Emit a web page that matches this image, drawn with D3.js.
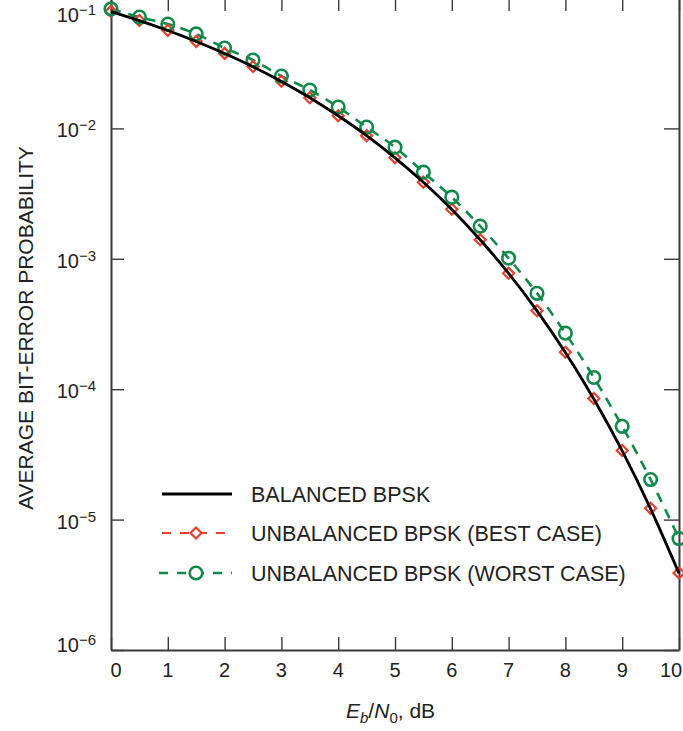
<!DOCTYPE html>
<html>
<head>
<meta charset="utf-8">
<script src="https://cdn.jsdelivr.net/npm/d3@7"></script>
<style>
  body { margin: 0; background: #fff; }
  text { font-family: "Liberation Sans", Arial, sans-serif; fill: #222; }
</style>
</head>
<body>
<div id="chart"></div>
<script>
// Eb/N0 in dB
var ebn0 = [0, 0.5, 1, 1.5, 2, 2.5, 3, 3.5, 4, 4.5, 5, 5.5, 6, 6.5, 7, 7.5, 8, 8.5, 9, 9.5, 10];

// balanced BPSK
var balanced = [7.87e-2, 6.71e-2, 5.63e-2, 4.64e-2, 3.75e-2, 2.97e-2, 2.29e-2, 1.72e-2, 1.25e-2, 8.8e-3,
  5.95e-3, 3.86e-3, 2.39e-3, 1.40e-3, 7.73e-4, 3.99e-4, 1.91e-4, 8.4e-5, 3.36e-5, 1.21e-5, 3.87e-6];

// unbalanced, best case (red diamonds)
var bestCase = [7.9e-2, 6.72e-2, 5.65e-2, 4.65e-2, 3.76e-2, 2.98e-2, 2.3e-2, 1.72e-2, 1.25e-2, 8.8e-3,
  5.95e-3, 3.87e-3, 2.40e-3, 1.40e-3, 7.75e-4, 4.0e-4, 1.92e-4, 8.5e-5, 3.39e-5, 1.22e-5, 3.9e-6];

// unbalanced, worst case (green circles)
var worstCase = [8.24e-2, 7.14e-2, 6.31e-2, 5.3e-2, 4.13e-2, 3.34e-2, 2.52e-2, 1.97e-2, 1.456e-2, 1.023e-2,
  7.18e-3, 4.62e-3, 2.97e-3, 1.78e-3, 1.01e-3, 5.44e-4, 2.69e-4, 1.23e-4, 5.19e-5, 2.03e-5, 7.16e-6];

var xTicks = [0, 1, 2, 3, 4, 5, 6, 7, 8, 9, 10];
var yTicks = [1e-6, 1e-5, 1e-4, 1e-3, 1e-2, 1e-1];
var yExp = ['\u22126', '\u22125', '\u22124', '\u22123', '\u22122', '\u22121'];

var legendNames = ['BALANCED BPSK', 'UNBALANCED BPSK (BEST CASE)', 'UNBALANCED BPSK (WORST CASE)'];

var RED = '#e8402c', GREEN = '#11894a', AX = '#3a3a3a';

var svg = d3.select('#chart')
  .append('svg')
    .attr('width', 683)
    .attr('height', 731);

var x = d3.scaleLinear().domain([0, 10]).range([111, 679]);
var y = d3.scaleLog().domain([1e-6, 1e-1]).range([650, -2]);

// frame with inward ticks
function styleAxis(g) {
  g.select('.domain').attr('stroke', AX).attr('stroke-width', 2);
  g.selectAll('.tick line').attr('stroke', AX).attr('stroke-width', 1.4);
}

svg.append('g').attr('transform', 'translate(0,650)')
  .call(d3.axisBottom(x).tickValues(xTicks).tickSize(-13).tickSizeOuter(0).tickFormat(''))
  .call(styleAxis);
svg.append('g').attr('transform', 'translate(0,-2)')
  .call(d3.axisTop(x).tickValues(xTicks).tickSize(-13).tickSizeOuter(0).tickFormat(''))
  .call(styleAxis);
svg.append('g').attr('transform', 'translate(111,0)')
  .call(d3.axisLeft(y).tickValues(yTicks).tickSize(-13).tickSizeOuter(0).tickFormat(''))
  .call(styleAxis);
svg.append('g').attr('transform', 'translate(679,0)')
  .call(d3.axisRight(y).tickValues(yTicks).tickSize(-15).tickSizeOuter(0).tickFormat(''))
  .call(styleAxis);

// x tick labels (end ones nudged off the frame)
svg.selectAll('.xlab')
  .data(xTicks)
  .enter().append('text')
    .attr('x', function(d) { return x(d) + (d === 0 ? 5 : d === 10 ? -8 : 0); })
    .attr('y', 677)
    .attr('text-anchor', 'middle')
    .style('font-size', '20px')
    .text(function(d) { return d; });

// y tick labels 10^-n
var ylab = svg.selectAll('.ylab')
  .data(yTicks)
  .enter().append('text')
    .attr('x', 96)
    .attr('y', function(d, i) {
      if (i === 0) return y(d) + 2;
      if (i === 5) return 22;
      return y(d) + 9;
    })
    .attr('text-anchor', 'end')
    .style('font-size', '20px');
ylab.append('tspan').text('10');
ylab.append('tspan')
  .attr('dy', -7)
  .style('font-size', '15px')
  .text(function(d, i) { return yExp[i]; });

// axis titles
svg.append('text')
  .attr('transform', 'translate(33,328) rotate(-90)')
  .attr('text-anchor', 'middle')
  .style('font-size', '21px')
  .text('AVERAGE BIT-ERROR PROBABILITY');

var xt = svg.append('text')
  .attr('x', 346)
  .attr('y', 718)
  .style('font-size', '21px');
xt.append('tspan').style('font-style', 'italic').text('E');
xt.append('tspan').style('font-style', 'italic').style('font-size', '15px').attr('dy', 5).text('b');
xt.append('tspan').attr('dy', -5).text('/');
xt.append('tspan').style('font-style', 'italic').text('N');
xt.append('tspan').style('font-size', '15px').attr('dy', 5).text('0');
xt.append('tspan').attr('dy', -5).text(', dB');

// curves
var line = d3.line()
  .x(function(d) { return x(d[0]); })
  .y(function(d) { return y(d[1]); })
  .curve(d3.curveMonotoneX);

function pairs(vals) { return ebn0.map(function(e, i) { return [e, vals[i]]; }); }

var diamond = 'M0,-5.5L5.5,0L0,5.5L-5.5,0Z';

svg.append('path')
  .datum(pairs(bestCase))
  .attr('d', line)
  .attr('fill', 'none')
  .attr('stroke', RED)
  .attr('stroke-width', 2)
  .attr('stroke-dasharray', '10,8');

svg.append('path')
  .datum(pairs(worstCase))
  .attr('d', line)
  .attr('fill', 'none')
  .attr('stroke', GREEN)
  .attr('stroke-width', 2.6)
  .attr('stroke-dasharray', '10,8');

svg.selectAll('.dia')
  .data(pairs(bestCase))
  .enter().append('path')
    .attr('transform', function(d) { return 'translate(' + x(d[0]) + ',' + y(d[1]) + ')'; })
    .attr('d', diamond)
    .attr('fill', 'none')
    .attr('stroke', RED)
    .attr('stroke-width', 2.2);

svg.selectAll('.circ')
  .data(pairs(worstCase))
  .enter().append('circle')
    .attr('cx', function(d) { return x(d[0]); })
    .attr('cy', function(d) { return y(d[1]); })
    .attr('r', 6.3)
    .attr('fill', 'none')
    .attr('stroke', GREEN)
    .attr('stroke-width', 2.6);

svg.append('path')
  .datum(pairs(balanced))
  .attr('d', line)
  .attr('fill', 'none')
  .attr('stroke', '#000')
  .attr('stroke-width', 2.8);

// legend
var legY = [494, 533, 573];
var leg = svg.append('g');

leg.append('line')
  .attr('x1', 162).attr('x2', 232).attr('y1', legY[0]).attr('y2', legY[0])
  .attr('stroke', '#000').attr('stroke-width', 2.8);

leg.append('line')
  .attr('x1', 162).attr('x2', 232).attr('y1', legY[1]).attr('y2', legY[1])
  .attr('stroke', RED).attr('stroke-width', 2.2).attr('stroke-dasharray', '9,9');
leg.append('path')
  .attr('transform', 'translate(196,' + legY[1] + ')')
  .attr('d', diamond)
  .attr('fill', '#fff').attr('stroke', RED).attr('stroke-width', 2.2);

leg.append('line')
  .attr('x1', 159).attr('x2', 232).attr('y1', legY[2]).attr('y2', legY[2])
  .attr('stroke', GREEN).attr('stroke-width', 2.6).attr('stroke-dasharray', '9,9');
leg.append('circle')
  .attr('cx', 196).attr('cy', legY[2]).attr('r', 6.3)
  .attr('fill', '#fff').attr('stroke', GREEN).attr('stroke-width', 2.6);

leg.selectAll('.lt')
  .data(legendNames)
  .enter().append('text')
    .attr('x', 251)
    .attr('y', function(d, i) { return legY[i] + 7.5; })
    .style('font-size', '21.5px')
    .text(function(d) { return d; });
</script>
</body>
</html>
